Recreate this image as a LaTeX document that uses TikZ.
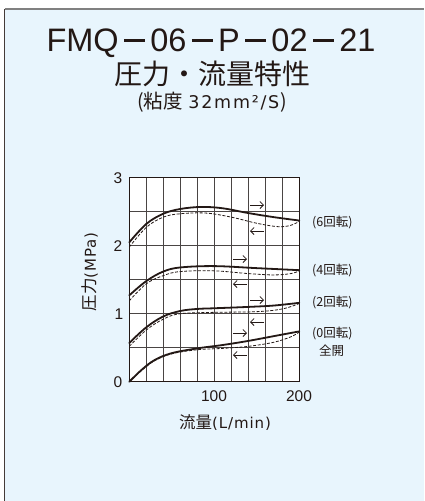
\documentclass[tikz,border=0pt]{standalone}
\usepackage{fontspec}
\setmainfont{Liberation Sans}
\newfontfamily\jp{Noto Sans CJK JP}
\newfontfamily\wide[LetterSpace=10]{DejaVu Sans}
\newfontfamily\semiwide[LetterSpace=6]{DejaVu Sans}
\usetikzlibrary{arrows.meta}
\definecolor{bg}{HTML}{E8F5FD}
\definecolor{ink}{HTML}{231815}
\definecolor{gridc}{HTML}{4A4544}
\begin{document}
\begin{tikzpicture}[x=1pt,y=-1pt,
  every node/.style={inner sep=0pt, text=ink},
  gridline/.style={draw=gridc, line width=0.7pt},
  plotframe/.style={draw=ink, line width=1.1pt},
  solidcurve/.style={draw=ink, line width=1.8pt, line cap=round},
  dashcurve/.style={draw=ink, line width=0.8pt, dash pattern=on 3pt off 1.6pt},
  dirarrow/.style={draw=ink, line width=0.75pt, -{Straight Barb[length=3.5pt,width=7pt]}},
  ticklab/.style={font=\fontsize{15.5}{16}\selectfont},
  revlab/.style={anchor=west, font=\jp\fontsize{12.5}{13}\selectfont}]
\useasboundingbox (0,0) rectangle (424,501);
\fill[white] (0,0) rectangle (424,501);
\fill[bg] (4.5,9) rectangle (424,501);
\draw[gray, line width=1.3pt] (4.5,9) -- (424,9);
\draw[ink!85, line width=1.3pt] (4.5,9) -- (4.5,501);

% titles
\node (t1) at (211,43) {\fontsize{32.5}{34}\selectfont FMQ\,\rule[0.3em]{0.64em}{0.075em}\,06\,\rule[0.3em]{0.64em}{0.075em}\,P\,\rule[0.3em]{0.64em}{0.075em}\,02\,\rule[0.3em]{0.64em}{0.075em}\,21};
\node (t2) at (212,74) {\jp\fontsize{28}{30}\selectfont 圧力・流量特性};
\node (t3) at (212,102) {\jp\fontsize{19.5}{20}\selectfont (粘度\hspace{0.3em}{\wide\fontsize{17.5}{20}\selectfont 32mm²/S}\hspace{0.05em})};

% plot
\begin{scope}[shift={(129.3,381.7)}, x=0.85pt, y=68pt]
\fill[white] (0,0) rectangle (200,3);
\foreach \i in {20,40,...,180} \draw[gridline] (\i,0) -- (\i,3);
\foreach \j in {0.5,1,1.5,2,2.5} \draw[gridline] (0,\j) -- (200,\j);
\draw[plotframe] (0,0) rectangle (200,3);
% 6 rev
\draw[solidcurve] plot[smooth, tension=0.6] coordinates {(0,2.05) (20,2.32) (40,2.47) (60,2.54) (85,2.57) (110,2.55) (140,2.48) (170,2.42) (200,2.37)};
\draw[dashcurve] plot[smooth, tension=0.6] coordinates {(0,1.98) (20,2.27) (40,2.42) (60,2.47) (90,2.48) (120,2.42) (150,2.33) (175,2.28) (190,2.30) (200,2.36)};
% 4 rev
\draw[solidcurve] plot[smooth, tension=0.6] coordinates {(0,1.27) (20,1.48) (40,1.62) (60,1.68) (100,1.70) (150,1.67) (200,1.64)};
\draw[dashcurve] plot[smooth, tension=0.6] coordinates {(0,1.19) (20,1.44) (40,1.56) (60,1.62) (100,1.63) (140,1.59) (170,1.57) (190,1.59) (200,1.63)};
% 2 rev
\draw[solidcurve] plot[smooth, tension=0.6] coordinates {(0,0.57) (20,0.80) (40,0.96) (60,1.04) (80,1.07) (100,1.08) (140,1.10) (170,1.12) (200,1.16)};
\draw[dashcurve] plot[smooth, tension=0.6] coordinates {(0,0.52) (20,0.76) (40,0.92) (60,1.00) (100,1.02) (150,1.03) (180,1.07) (200,1.15)};
% 0 rev
\draw[solidcurve] plot[smooth, tension=0.6] coordinates {(0,0) (15,0.18) (30,0.32) (50,0.42) (80,0.49) (110,0.54) (140,0.60) (170,0.67) (200,0.74)};
\draw[dashcurve] plot[smooth, tension=0.6] coordinates {(0,0) (15,0.17) (30,0.31) (50,0.41) (80,0.47) (110,0.49) (140,0.52) (170,0.58) (190,0.66) (200,0.73)};
\end{scope}

% direction arrows
\coordinate (a6s) at (250,205); \coordinate (a6e) at (264,205);
\coordinate (b6s) at (264,231); \coordinate (b6e) at (250,231);
\coordinate (a4s) at (233,259); \coordinate (a4e) at (247,259);
\coordinate (b4s) at (247,284); \coordinate (b4e) at (233,284);
\coordinate (a2s) at (250,300); \coordinate (a2e) at (264,300);
\coordinate (b2s) at (264,322); \coordinate (b2e) at (250,322);
\coordinate (a0s) at (233,333); \coordinate (a0e) at (247,333);
\coordinate (b0s) at (247,355); \coordinate (b0e) at (233,355);
\draw[dirarrow] (a6s) -- (a6e);
\draw[dirarrow] (b6s) -- (b6e);
\draw[dirarrow] (a4s) -- (a4e);
\draw[dirarrow] (b4s) -- (b4e);
\draw[dirarrow] (a2s) -- (a2e);
\draw[dirarrow] (b2s) -- (b2e);
\draw[dirarrow] (a0s) -- (a0e);
\draw[dirarrow] (b0s) -- (b0e);

% tick labels
\node[ticklab] (y3) at (118,178.5) {3};
\node[ticklab] (y2) at (118,246.5) {2};
\node[ticklab] (y1) at (119,314.5) {1};
\node[ticklab] (y0) at (118,382.5) {0};
\node[ticklab] (x100) at (214,396) {100};
\node[ticklab] (x200) at (299,396) {200};

% axis labels
\node[rotate=90, font=\jp\fontsize{16.5}{17}\selectfont] (ylab) at (90,272) {圧力{\semiwide\fontsize{15}{17}\selectfont (MPa)}};
\node[font=\jp\fontsize{16.5}{17}\selectfont] (xlab) at (225,423) {流量{\semiwide\fontsize{15}{17}\selectfont (L/min)}};

% revolution labels
\node[revlab] (r6) at (312,222) {(6回転)};
\node[revlab] (r4) at (312,270) {(4回転)};
\node[revlab] (r2) at (312,302) {(2回転)};
\node[revlab] (r0) at (312,333) {(0回転)};
\node[font=\jp\fontsize{12.5}{13}\selectfont] (full) at (331.5,351) {全開};
\end{tikzpicture}
\end{document}
